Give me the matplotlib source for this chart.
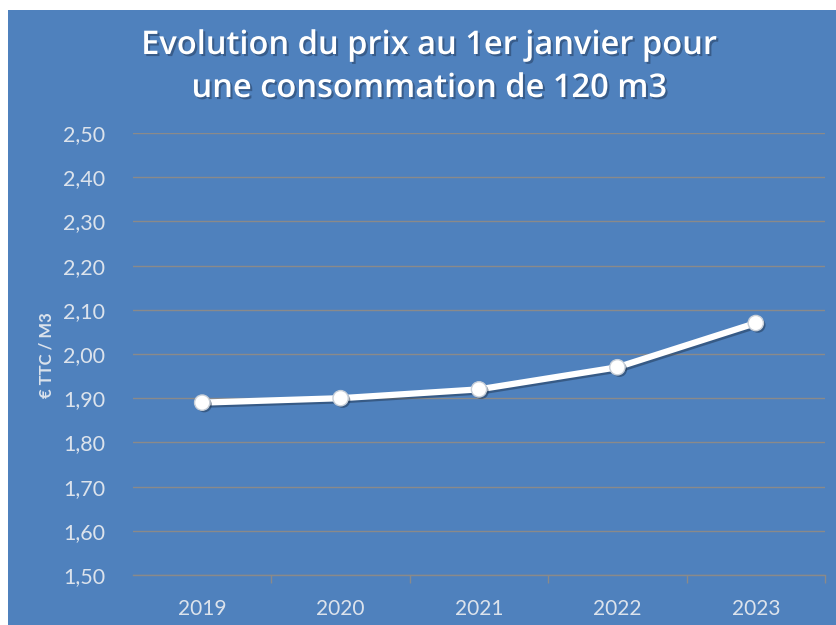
import matplotlib
matplotlib.use("Agg")
import matplotlib.pyplot as plt
import matplotlib.patheffects as pe
from matplotlib.patches import Rectangle

years = ["2019", "2020", "2021", "2022", "2023"]
prices = [1.89, 1.90, 1.92, 1.97, 2.07]
yticks = [1.50, 1.60, 1.70, 1.80, 1.90, 2.00, 2.10, 2.20, 2.30, 2.40, 2.50]
title = "Evolution du prix au 1er janvier pour\nune consommation de 120 m3"
ylabel = "€ TTC / M3"

BLUE = "#4F81BD"
TXT = "#DCE3EC"
GRID = "#8A8A8A"

plt.rcParams["font.family"] = ["Lato", "DejaVu Sans"]

W, H = 837, 625
fig = plt.figure(figsize=(W / 100, H / 100), dpi=100, facecolor="white")
fig.patches.append(Rectangle((8 / W, 0), 1, 1 - 10 / H, transform=fig.transFigure,
                             facecolor=BLUE, edgecolor="none", zorder=-5))

ax = fig.add_axes([133 / W, 1 - 575 / H, (825 - 133) / W, (575 - 133) / H])
ax.set_zorder(2)
ax.patch.set_alpha(0)

x = list(range(len(years)))
shadow = [pe.SimpleLineShadow(offset=(1.5, -1.5), shadow_color="#1F3550", alpha=0.5), pe.Normal()]
ax.plot(x, prices, color="white", lw=4.5, solid_capstyle="round", zorder=3,
        path_effects=shadow)
ax.plot(x, prices, ls="none", marker="o", ms=11, mfc="white", mec="#C8CFD8", mew=1,
        zorder=4, path_effects=[pe.SimplePatchShadow(offset=(1.5, -1.5), shadow_rgbFace="#1F3550", alpha=0.5), pe.Normal()])

ax.set_xlim(-0.5, len(years) - 0.5)
ax.set_ylim(1.50, 2.50)
ax.set_yticks(yticks)
ax.set_yticklabels([f"{v:.2f}".replace(".", ",") for v in yticks])
ax.yaxis.grid(True, color=GRID, lw=1)
ax.set_axisbelow(True)
ax.tick_params(axis="y", length=0, pad=20, labelsize=15.5, labelcolor=TXT)

ax.set_xticks(x)
ax.set_xticklabels(years)
ax.set_xticks([i + 0.5 for i in x], minor=True)
ax.tick_params(axis="x", which="major", length=0, pad=17, labelsize=15, labelcolor=TXT)
ax.tick_params(axis="x", which="minor", length=6, color=GRID, width=1)

for s in ["top", "right", "left"]:
    ax.spines[s].set_visible(False)
ax.spines["bottom"].set_color(GRID)
ax.spines["bottom"].set_linewidth(1)

fig.text(47 / W, 1 - 355 / H, ylabel, rotation=90, ha="center", va="center",
         color=TXT, fontsize=12, fontweight="bold")

fig.text(429 / W, 1 - 67 / H, title, ha="center", va="center", color="white",
         fontsize=23.5, fontweight="semibold", linespacing=1.4, family=["Open Sans", "DejaVu Sans"],
         path_effects=[pe.withSimplePatchShadow(offset=(1.5, -1.5), shadow_rgbFace="#2A4468", alpha=0.6)])

fig.savefig("out.png", dpi=100, facecolor="white")
